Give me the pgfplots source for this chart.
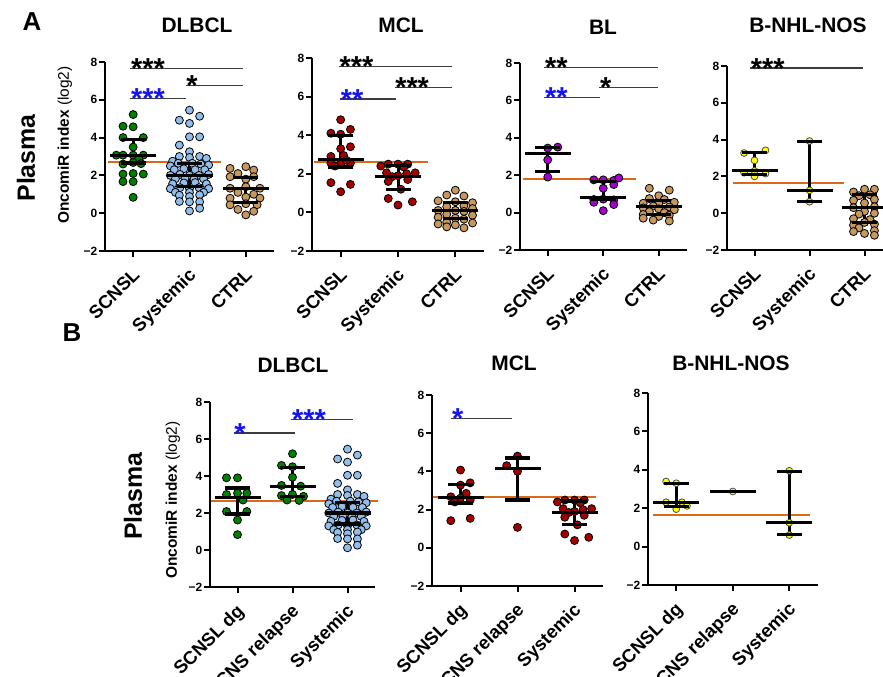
\documentclass[border=0pt]{standalone}
\usepackage{pgfplots}
\pgfplotsset{compat=1.18}
\usepackage{pgfplotstable}
\usepackage{fontspec}
\setmainfont{Liberation Sans}

\definecolor{gpgreen}{RGB}{0,128,0}
\definecolor{gpblue}{RGB}{145,190,235}
\definecolor{gptan}{RGB}{198,152,92}
\definecolor{gpred}{RGB}{165,0,0}
\definecolor{gppurple}{RGB}{165,0,205}
\definecolor{gpyellow}{RGB}{255,255,0}
\definecolor{gporange}{RGB}{220,105,25}
\definecolor{gpsig}{RGB}{60,60,60}
\definecolor{starblue}{RGB}{20,20,240}

% shared groups (offset from category centre, value)
\pgfplotstableread{
dx y
0 5.45
0.18 5.13
-0.18 4.92
0 4.75
0 4.04
0.18 4.04
-0.18 3.6
0 3.25
-0.18 3.0
0.18 3.0
0 2.95
0.3 2.9
-0.3 2.75
-0.2 2.64
0.05 2.64
0.2 2.6
0.34 2.55
-0.34 2.5
-0.27 2.3
-0.1 2.35
0.1 2.3
0.27 2.3
-0.34 2.0
-0.17 2.05
0 2.0
0.17 2.0
0.34 2.05
-0.25 1.82
-0.08 1.85
0.08 1.8
0.25 1.82
-0.3 1.55
-0.1 1.6
0.1 1.62
0.3 1.55
-0.34 1.3
-0.17 1.35
0 1.3
0.17 1.35
0.34 1.3
-0.25 1.1
0 1.1
0.25 1.1
-0.18 0.95
0 0.88
0.18 0.97
-0.18 0.62
0 0.6
0.18 0.6
0.18 0.26
0 0.12
}\dlbclsys

\pgfplotstableread{
dx y
-0.17 2.5
0 2.5
0.17 2.5
-0.3 2.4
0.1 2.35
-0.2 2.05
0.3 2.05
0 1.9
0.15 2.0
-0.1 1.85
0.17 1.7
-0.17 1.6
0.05 1.2
-0.17 0.72
0.25 0.55
0 0.38
}\mclsys

\newcommand{\starfont}{\fontsize{29}{29}\selectfont\bfseries}
\newcommand{\titlefont}{\fontsize{21}{21}\selectfont\bfseries}

\pgfplotsset{
  gp/.style={
    scale only axis, anchor=south west,
    axis x line*=bottom, axis y line*=left,
    axis line style={line width=2.4bp},
    xmin=-0.5, xmax=2.5, ymin=-2, ymax=8,
    ytick={-2,0,2,4,6,8}, yticklabels={−2,0,2,4,6,8},
    xtick={0,1,2},
    tick style={line width=2bp, black},
    major tick length=6bp,
    tick align=outside,
    xticklabel style={xshift=7.5bp, yshift=-19bp, rotate=45, anchor=base east, inner sep=0pt,
      font=\fontsize{18.5}{18.5}\selectfont\bfseries},
    yticklabel style={font=\fontsize{12}{12}\selectfont\bfseries, inner sep=1.5bp},
    clip=false,
  },
  dots/.style={only marks, mark=*, mark size=4bp,
    mark options={draw=black, line width=0.8bp, fill=#1}},
  ydots/.style={only marks, mark=*, mark size=3.4bp,
    mark options={draw=black!70, line width=0.8bp, fill=gpyellow}},
  medmark/.style={only marks, mark=-, mark size=23bp, mark options={line width=3.2bp, black}},
  capmark/.style={only marks, mark=-, mark size=12.5bp, mark options={line width=3.2bp, black}},
  vbar/.style={black, line width=3bp, no marks},
  refline/.style={gporange, line width=2bp, no marks},
  sigline/.style={gpsig, line width=1.2bp, no marks},
}

% x, Q1, median, Q3
\newcommand{\stat}[4]{%
  \addplot[vbar] coordinates {(#1,#2) (#1,#4)};
  \addplot[capmark] coordinates {(#1,#2) (#1,#4)};
  \addplot[medmark] coordinates {(#1,#3)};
}
% from, to, height, stars, colour
\newcommand{\sig}[5]{%
  \addplot[sigline] coordinates {(#1,#3) (#2,#3)};
  \node[anchor=base west, inner sep=0pt, text=#5, font=\starfont, yshift=-10bp, xshift=0.5bp]
    at (axis cs:#1,#3) {#4};
}

\begin{document}
\begin{tikzpicture}[x=1bp, y=1bp]
\useasboundingbox (0,0) rectangle (883,677);
\clip (0,0) rectangle (883,677);

% panel letters, row labels, titles
\node[font=\fontsize{26}{26}\selectfont\bfseries] at (32,655) {A};
\node[font=\fontsize{26}{26}\selectfont\bfseries] at (72,344) {B};
\node[font=\fontsize{25}{25}\selectfont\bfseries, rotate=90] at (26,519) {Plasma};
\node[font=\fontsize{25}{25}\selectfont\bfseries, rotate=90] at (133,181) {Plasma};
\node[font=\fontsize{15.5}{15.5}\selectfont, rotate=90] at (65,532) {\bfseries OncomiR index \mdseries(log2)};
\node[font=\fontsize{15.5}{15.5}\selectfont, rotate=90] at (173,177) {\bfseries OncomiR index \mdseries(log2)};
\node[font=\titlefont] at (197,652) {DLBCL};
\node[font=\titlefont] at (401,652) {MCL};
\node[font=\titlefont] at (603,650) {BL};
\node[font=\titlefont] at (808,652) {B-NHL-NOS};
\node[font=\titlefont] at (293,312) {DLBCL};
\node[font=\titlefont] at (514,314) {MCL};
\node[font=\titlefont] at (731,314) {B-NHL-NOS};

% ---------- A: DLBCL ----------
\begin{axis}[gp, at={(105bp,426bp)}, width=169bp, height=189bp,
  xticklabels={SCNSL,Systemic,CTRL}]
\addplot[dots=gpgreen] coordinates {(0,5.22) (-0.18,4.6) (0,4.57) (-0.18,4.0) (0.18,4.0) (0,3.5)
  (-0.3,3.07) (-0.18,3.07) (0,3.07) (0.18,3.07) (0.1,2.9) (-0.18,2.6) (0,2.68) (0.14,2.62)
  (-0.18,2.07) (0,2.1) (0.18,2.07) (-0.18,1.67) (0,1.67) (0,0.84)};
\addplot[dots=gpblue] table[x expr=\thisrow{dx}+1, y=y] {\dlbclsys};
\addplot[dots=gptan] coordinates {(1.72,2.37) (2,2.46) (2.14,2.28) (1.86,2.1) (1.72,1.93) (2.14,1.93)
  (2,1.8) (1.72,1.32) (2,1.4) (2.25,1.32) (1.86,1.1) (2.14,1.0) (1.72,0.79) (2,0.85) (2.25,0.8)
  (1.72,0.44) (2,0.5) (2.2,0.45) (1.86,0.2) (2,-0.09) (2.14,0.1)};
\addplot[refline] coordinates {(-0.44,2.7) (1.56,2.7)};
\stat{0}{2.65}{3.05}{3.9}
\stat{1}{1.4}{2.0}{2.62}
\stat{2}{0.55}{1.3}{1.9}
\sig{-0.05}{1.95}{7.64}{***}{black}
\sig{0.93}{1.95}{6.77}{*}{black}
\sig{-0.05}{0.93}{6.05}{***}{starblue}
\end{axis}

% ---------- A: MCL ----------
\begin{axis}[gp, at={(312bp,426bp)}, width=172bp, height=193bp,
  xticklabels={SCNSL,Systemic,CTRL}]
\addplot[dots=gpred] coordinates {(0,4.8) (0.17,4.3) (-0.17,4.1) (0,4.05) (0.17,3.4) (0,3.3)
  (0.05,2.95) (-0.17,2.9) (0.17,2.55) (-0.17,2.55) (0,2.5) (0.1,2.7) (-0.1,2.4) (-0.17,1.54)
  (0.17,1.45) (0,1.07)};
\addplot[dots=gpred] table[x expr=\thisrow{dx}+1, y=y] {\mclsys};
\addplot[dots=gptan] coordinates {(2,1.15) (1.85,0.9) (2.15,0.85) (1.7,0.6) (2,0.55) (2.3,0.5)
  (1.85,0.3) (2.15,0.35) (2.3,0.2) (1.7,0.1) (2,0.1) (2.15,0.05) (1.85,-0.1) (2.3,-0.15)
  (1.7,-0.25) (2,-0.3) (2.15,-0.35) (1.85,-0.5) (2.3,-0.55) (2,-0.65) (1.7,-0.6) (2.15,-0.8)
  (1.85,-0.75)};
\addplot[refline] coordinates {(-0.47,2.63) (1.53,2.63)};
\stat{0}{2.35}{2.75}{4.0}
\stat{1}{1.2}{1.85}{2.45}
\stat{2}{-0.3}{0.1}{0.5}
\sig{-0.03}{1.95}{7.57}{***}{black}
\sig{0.94}{1.95}{6.48}{***}{black}
\sig{-0.01}{0.97}{5.87}{**}{starblue}
\end{axis}

% ---------- A: BL ----------
\begin{axis}[gp, at={(520bp,427bp)}, width=166.5bp, height=187bp,
  xticklabels={SCNSL,Systemic,CTRL}]
\addplot[dots=gppurple] coordinates {(0.18,3.5) (0,3.45) (0,2.82) (0,1.9)};
\addplot[dots=gppurple] coordinates {(0.83,1.75) (1,1.75) (1.19,1.72) (1.28,1.85) (1,1.3)
  (1.19,1.5) (0.83,0.7) (1,0.72) (1.19,0.68) (0.83,0.55) (1.19,0.43) (1,0.1)};
\addplot[dots=gptan] coordinates {(1.83,1.3) (2.19,1.2) (2,0.9) (1.83,0.75) (2.1,0.7) (2.28,0.55)
  (1.72,0.5) (2,0.5) (1.9,0.35) (2.19,0.3) (1.72,0.25) (2.28,0.15) (2,0.2) (1.83,0.05) (2.1,0.0)
  (1.72,-0.1) (2.19,-0.15) (2,-0.2) (1.9,-0.4) (2.19,-0.45) (1.72,-0.3)};
\addplot[refline] coordinates {(-0.45,1.8) (1.59,1.8)};
\stat{0}{2.2}{3.15}{3.5}
\stat{1}{0.7}{0.8}{1.68}
\stat{2}{-0.1}{0.33}{0.65}
\sig{-0.06}{1.98}{7.75}{**}{black}
\sig{0.93}{1.99}{6.7}{*}{black}
\sig{-0.06}{0.95}{6.16}{**}{starblue}
\end{axis}

% ---------- A: B-NHL-NOS ----------
\begin{axis}[gp, at={(727bp,427bp)}, width=165bp, height=184bp,
  xticklabels={SCNSL,Systemic,CTRL}]
\addplot[ydots] coordinates {(-0.19,3.27) (0.2,3.42) (0,2.87) (0,2.3) (-0.19,2.2) (0.2,2.15) (0,2.0)};
\addplot[ydots] coordinates {(1,3.92) (1,1.24) (1,0.62)};
\addplot[dots=gptan] coordinates {(1.8,1.15) (2,1.3) (2.18,1.3) (1.9,0.95) (2.1,1.0) (1.8,0.7)
  (2.18,0.75) (2,0.55) (1.8,0.3) (2.18,0.35) (2,0.1) (1.9,-0.05) (2.18,0.0) (1.8,-0.3) (2.1,-0.35)
  (2,-0.5) (1.8,-0.65) (2.18,-0.6) (1.9,-0.8) (2.18,-0.95) (2,-1.1) (1.8,-1.0) (2.18,-1.2)};
\addplot[refline] coordinates {(-0.4,1.64) (1.62,1.64)};
\stat{0}{2.1}{2.3}{3.3}
\stat{1}{0.65}{1.24}{3.9}
\stat{2}{-0.5}{0.33}{1.0}
\sig{-0.08}{1.97}{7.89}{***}{black}
\end{axis}

% ---------- B: DLBCL ----------
\begin{axis}[gp, at={(210bp,90bp)}, width=165bp, height=185bp,
  xticklabels={SCNSL dg,CNS relapse,Systemic}]
\addplot[dots=gpgreen] coordinates {(-0.2,3.9) (0,3.9) (0,3.07) (0.17,3.07) (-0.2,3.0) (0.1,2.7)
  (-0.2,2.08) (0.17,2.08) (0,1.62) (0,0.83)};
\addplot[dots=gpgreen] coordinates {(1,5.2) (0.8,4.57) (1,4.5) (1,3.93) (0.8,3.49) (1.15,3.45)
  (0.8,2.94) (1.2,2.9) (1,3.0) (0.9,2.7) (1.12,2.68)};
\addplot[dots=gpblue] table[x expr=\thisrow{dx}+2, y=y] {\dlbclsys};
\addplot[refline] coordinates {(-0.49,2.64) (2.55,2.64)};
\stat{0}{1.95}{2.85}{3.35}
\stat{1}{2.9}{3.45}{4.45}
\stat{2}{1.4}{2.0}{2.55}
\sig{-0.07}{1.04}{6.32}{*}{starblue}
\sig{0.98}{2.1}{7.06}{***}{starblue}
\end{axis}

% ---------- B: MCL ----------
\begin{axis}[gp, at={(432bp,91bp)}, width=171bp, height=191bp,
  xticklabels={SCNSL dg,CNS relapse,Systemic}]
\addplot[dots=gpred] coordinates {(0,4.07) (0.17,3.4) (0,3.28) (0.1,2.85) (-0.17,2.67) (0,2.6)
  (0.17,2.5) (-0.1,2.4) (-0.17,1.42) (0.17,1.54)};
\addplot[dots=gpred] coordinates {(1,4.8) (0.81,4.3) (1,4.0) (1,1.07)};
\addplot[dots=gpred] table[x expr=\thisrow{dx}+2, y=y] {\mclsys};
\addplot[refline] coordinates {(-0.49,2.65) (2.37,2.65)};
\stat{0}{2.35}{2.63}{3.3}
\stat{1}{2.5}{4.15}{4.7}
\stat{2}{1.2}{1.85}{2.45}
\sig{-0.16}{0.9}{6.79}{*}{starblue}
\end{axis}

% ---------- B: B-NHL-NOS ----------
\begin{axis}[gp, at={(648bp,92bp)}, width=169.5bp, height=192bp,
  xticklabels={SCNSL dg,CNS relapse,Systemic}]
\addplot[ydots] coordinates {(-0.18,3.39) (0,3.3) (-0.18,2.31) (0.1,2.31) (0,1.95) (0.19,2.12)};
\addplot[ydots] coordinates {(1,2.87)};
\addplot[ydots] coordinates {(2,3.95) (2,1.24) (2,0.6)};
\addplot[refline] coordinates {(-0.42,1.67) (2.37,1.67)};
\stat{0}{2.1}{2.28}{3.3}
\addplot[medmark] coordinates {(1,2.87)};
\stat{2}{0.65}{1.24}{3.9}
\end{axis}
\end{tikzpicture}
\end{document}
